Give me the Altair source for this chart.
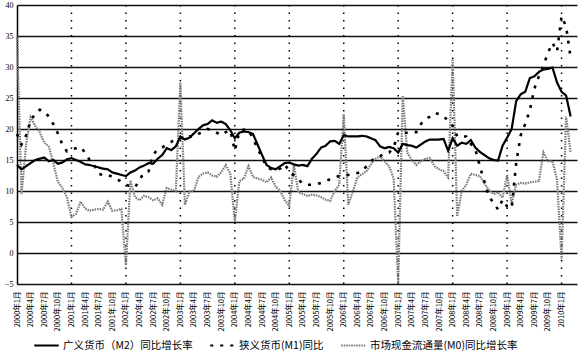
import altair as alt
import pandas as pd

START_YEAR = 2000

series_names = ["广义货币（M2）同比增长率", "狭义货币(M1)同比", "市场现金流通量(M0)同比增长率"]

m2 = [14.2, 13.5, 14.0, 14.5, 15.0, 15.2, 15.4, 14.8, 15.0, 14.4, 14.6, 15.1,
      15.3, 15.0, 14.7, 14.3, 14.2, 14.0, 13.8, 13.6, 13.5, 13.0, 12.8, 12.6,
      12.4, 13.0, 13.3, 13.8, 14.1, 14.5, 14.4, 15.2, 15.8, 16.9, 16.6, 17.2,
      18.8, 18.3, 18.6, 19.3, 20.0, 20.6, 20.8, 21.4, 21.0, 21.2, 20.8, 19.8,
      18.5, 19.4, 19.6, 19.5, 19.2, 17.5, 15.8, 14.2, 13.7, 13.5, 14.0, 14.5,
      14.6, 14.3, 14.1, 14.2, 14.0, 15.2, 16.0, 17.0, 17.3, 18.0, 18.1, 17.6,
      19.0, 18.8, 18.8, 18.8, 18.9, 18.8, 18.5, 18.2, 17.2, 16.9, 17.1, 16.9,
      16.2, 17.6, 17.4, 17.3, 17.0, 17.5, 18.0, 18.3, 18.3, 18.3, 18.4, 16.5,
      18.5, 17.3, 17.8, 17.6, 18.2, 17.0, 16.3, 15.8, 15.3, 15.0, 14.9, 17.3,
      18.6, 20.0, 24.5, 25.6, 26.0, 28.2, 28.5, 29.2, 29.6, 29.7, 29.9, 27.5,
      26.0, 25.4, 22.0]

m1 = [19.2, 17.5, 19.0, 21.3, 22.5, 23.1, 22.9, 22.0, 20.8, 19.3, 17.5, 16.4,
      16.7, 16.9, 17.1, 16.2, 15.0, 14.2, 12.8, 12.5, 12.6, 12.3, 11.9, 11.5,
      11.0, 10.8, 10.6, 11.8, 13.0, 13.2, 15.9, 16.7, 17.0, 17.5, 17.9, 18.5,
      18.5, 18.6, 18.8, 18.7, 19.2, 19.6, 20.0, 19.8, 19.4, 19.0, 19.5, 19.8,
      16.5, 19.6, 19.9, 19.8, 18.5, 16.8, 15.5, 13.9, 13.5, 13.4, 13.6, 14.3,
      13.2, 12.5, 11.8, 11.2, 11.0, 11.0, 11.1, 11.3, 11.6, 11.9, 12.2, 12.4,
      12.5, 12.6, 12.8, 12.9, 13.1, 14.0, 14.8, 15.4, 15.6, 16.1, 16.2, 17.0,
      19.5, 19.3, 19.4, 19.5, 19.5, 20.8, 21.6, 22.0, 22.6, 22.4, 22.1, 21.3,
      20.5, 18.8, 18.8, 18.8, 17.6, 16.7, 14.0, 11.5, 9.0, 8.2, 7.0, 8.6,
      7.5, 7.2, 14.5, 19.0, 20.8, 23.0, 26.5, 28.5, 30.2, 32.3, 33.9, 32.5,
      38.2, 36.5, 31.5]

m0 = [35.0, 9.5, 17.5, 21.9, 20.5, 19.5, 17.8, 17.2, 14.5, 11.5, 10.5, 9.0,
      5.8, 6.3, 8.3, 7.2, 6.8, 7.0, 7.1, 7.0, 8.3, 6.8, 6.9, 7.1,
      -2.0, 11.7, 9.0, 8.5, 9.2, 9.0, 8.5, 8.8, 7.8, 10.5, 10.2, 10.0,
      27.5, 7.8, 9.9, 10.0, 12.3, 12.8, 13.0, 12.5, 12.3, 13.0, 14.2, 12.8,
      5.0, 11.6, 12.0, 14.0, 12.3, 12.0, 11.8, 11.4, 12.2, 10.7, 10.0, 8.5,
      7.6, 14.2, 9.8, 9.5, 9.2, 9.4, 9.3, 9.0, 8.6, 8.4, 10.0, 11.0,
      22.4, 7.8, 9.9, 12.2, 12.7, 13.2, 14.3, 15.2, 15.6, 14.8, 14.0, 12.0,
      -4.8, 25.3, 16.2, 15.0, 14.2, 14.8, 15.2, 15.3, 14.0, 13.5, 13.2, 12.2,
      31.3, 5.9, 10.0, 11.0, 12.8, 12.6, 12.4, 11.2, 10.2, 9.5, 9.8, 8.9,
      12.6, 8.0, 11.0, 11.3, 11.2, 11.4, 11.5, 11.6, 16.2, 14.8, 14.8, 11.8,
      -1.0, 22.0, 16.2]

y_ticks = [-5, 0, 5, 10, 15, 20, 25, 30, 35, 40]
x_ticks = list(range(0, 121, 3))
jan_lines = list(range(12, 121, 12))

rows = []
for name, vals in zip(series_names, [m2, m1, m0]):
    for i, v in enumerate(vals):
        rows.append({"month": i, "value": v, "series": name})
df = pd.DataFrame(rows)

label_expr = ("floor(datum.value/12)+%d + '年' + (datum.value%%12+1) + '月'" % START_YEAR)

x_enc = alt.X("month:Q",
              scale=alt.Scale(domain=[0, 123.4], nice=False, zero=False),
              axis=alt.Axis(values=x_ticks, labelExpr=label_expr, labelAngle=270,
                            grid=False, ticks=False, domain=False,
                            labelFontSize=7.5, labelPadding=7, labelOverlap=False,
                            labelFont="Noto Sans CJK SC", labelColor="black",
                            title=None))
y_enc = alt.Y("value:Q",
              scale=alt.Scale(domain=[-5, 40], nice=False, zero=False),
              axis=alt.Axis(values=y_ticks, grid=True, gridColor="#111111", gridWidth=1.6,
                            ticks=False, domain=True, domainColor="black", domainWidth=1.5,
                            labelFontSize=8, labelPadding=4, labelFont="Liberation Serif",
                            labelColor="black", title=None))

legend_cfg = dict(orient="none", legendX=16, legendY=327,
                  direction="horizontal", symbolType="stroke",
                  symbolSize=600, symbolStrokeWidth=2.2,
                  labelFontSize=10.5, labelFont="Noto Sans CJK SC",
                  labelColor="black", columnPadding=12,
                  labelLimit=400, labelOffset=3, title=None)

color_enc = alt.Color("series:N",
                      scale=alt.Scale(domain=series_names, range=["black", "black", "#7a7a7a"]),
                      legend=alt.Legend(**legend_cfg))
dash_enc = alt.StrokeDash("series:N",
                          scale=alt.Scale(domain=series_names, range=[[1, 0], [3, 7], [1.5, 1]]),
                          legend=alt.Legend(**legend_cfg))

rules = alt.Chart(pd.DataFrame({"month": jan_lines})).mark_rule(
    color="black", strokeWidth=1.5, strokeDash=[1.5, 6]
).encode(x=x_enc)

def series_layer(name, width):
    return alt.Chart(df).transform_filter(
        alt.datum.series == name
    ).mark_line(strokeWidth=width).encode(
        x=x_enc, y=y_enc, color=color_enc, strokeDash=dash_enc
    )

chart = alt.layer(
    rules,
    series_layer(series_names[2], 2.2),
    series_layer(series_names[1], 2.6),
    series_layer(series_names[0], 2.2),
).properties(
    width=560, height=279,
    padding={"left": 17, "top": 5, "right": 1, "bottom": 69},
    autosize=alt.AutoSizeParams(type="none"),
    background="white",
).configure_view(stroke=None)

chart.save("out.html", embed_options={"renderer": "svg", "actions": False})
